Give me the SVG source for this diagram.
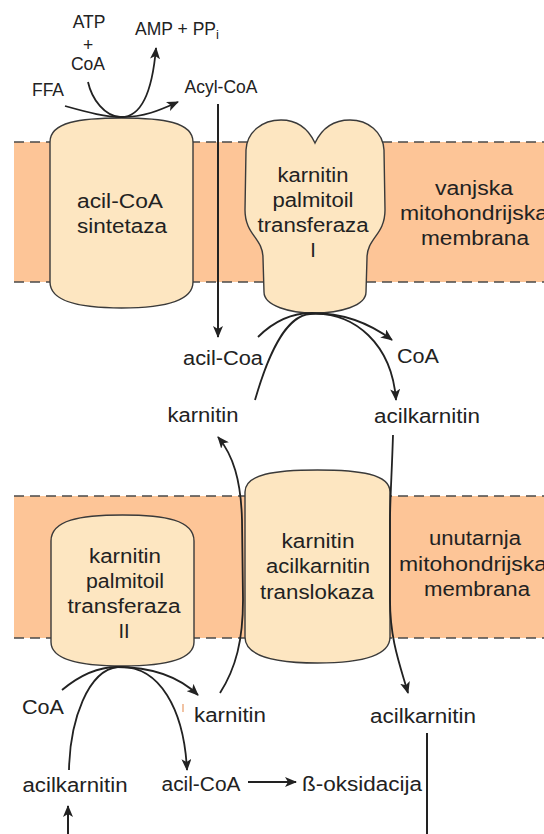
<svg xmlns="http://www.w3.org/2000/svg" width="544" height="834" viewBox="0 0 544 834">
<defs>
<style>
.mem{fill:#FDC597;stroke:none}
.dash{stroke:#4a4a4a;stroke-width:1.5;stroke-dasharray:10 6;fill:none}
.enz{fill:#FDE6C1;stroke:#3a3a3a;stroke-width:1.4}
.t{font-family:"Liberation Sans",Arial,sans-serif;font-size:20px;fill:#222;text-anchor:middle}
.s{font-family:"Liberation Sans",Arial,sans-serif;font-size:17.5px;fill:#222;text-anchor:middle}
.c{fill:none;stroke:#222;stroke-width:1.8}
.v{fill:none;stroke:#222;stroke-width:2}
</style>
<marker id="ah" viewBox="0 0 12 10" refX="11" refY="5" markerWidth="12" markerHeight="10" markerUnits="userSpaceOnUse" orient="auto">
<path d="M0,0 L12,5 L0,10 L3,5 Z" fill="#222"/>
</marker>
</defs>

<g id="outer-membrane">
<rect class="mem" x="14" y="142" width="530" height="140"/>
<line class="dash" x1="14" y1="142" x2="544" y2="142"/>
<line class="dash" x1="14" y1="282" x2="544" y2="282"/>
<text class="t" x="474" y="195" textLength="78" lengthAdjust="spacingAndGlyphs">vanjska</text>
<text class="t" x="474" y="220" textLength="148" lengthAdjust="spacingAndGlyphs">mitohondrijska</text>
<text class="t" x="475" y="245" textLength="108" lengthAdjust="spacingAndGlyphs">membrana</text>
</g>

<g id="inner-membrane">
<rect class="mem" x="14" y="496" width="530" height="142"/>
<line class="dash" x1="14" y1="496" x2="544" y2="496"/>
<line class="dash" x1="14" y1="638" x2="544" y2="638"/>
<text class="t" x="475" y="545" textLength="92" lengthAdjust="spacingAndGlyphs">unutarnja</text>
<text class="t" x="473" y="571" textLength="148" lengthAdjust="spacingAndGlyphs">mitohondrijska</text>
<text class="t" x="477" y="596" textLength="106" lengthAdjust="spacingAndGlyphs">membrana</text>
</g>

<g id="acil-coa-sintetaza">
<path class="enz" d="M50,142 C50,122 80,118 121.5,118 C163,118 193,122 193,142 L193,282 C193,302 163,308 121.5,308 C80,308 50,302 50,282 Z"/>
<text class="t" x="120" y="208" textLength="86" lengthAdjust="spacingAndGlyphs">acil-CoA</text>
<text class="t" x="122" y="233" textLength="90" lengthAdjust="spacingAndGlyphs">sintetaza</text>
</g>

<g id="cpt1">
<path class="enz" d="M315,143 C308,128 296,120 281,120 C262,120 247,132 246,150 L245,210 C245,235 263,238 263,258 L264,292 C264,306 290,313 314,313 C340,313 366,306 366,292 L367,258 C367,238 385,235 385,210 L384,150 C383,132 368,120 350,120 C334,120 322,128 315,143 Z"/>
<text class="t" x="313" y="182" textLength="71" lengthAdjust="spacingAndGlyphs">karnitin</text>
<text class="t" x="313" y="207" textLength="81" lengthAdjust="spacingAndGlyphs">palmitoil</text>
<text class="t" x="313" y="232" textLength="111" lengthAdjust="spacingAndGlyphs">transferaza</text>
<text class="t" x="313" y="257">I</text>
</g>

<g id="translokaza">
<path class="enz" d="M245,492 C245,474 275,470 317.5,470 C360,470 390,474 390,492 L390,637 C390,656 360,663 317.5,663 C275,663 245,656 245,637 Z"/>
<text class="t" x="318" y="548" textLength="73" lengthAdjust="spacingAndGlyphs">karnitin</text>
<text class="t" x="318" y="573" textLength="104" lengthAdjust="spacingAndGlyphs">acilkarnitin</text>
<text class="t" x="317" y="599" textLength="114" lengthAdjust="spacingAndGlyphs">translokaza</text>
</g>

<g id="cpt2">
<path class="enz" d="M51,541 C51,520 80,515 122.5,515 C165,515 194,520 194,541 L194,642 C194,660 165,666 122.5,666 C80,666 51,660 51,642 Z"/>
<text class="t" x="125" y="563" textLength="72" lengthAdjust="spacingAndGlyphs">karnitin</text>
<text class="t" x="125" y="588" textLength="78" lengthAdjust="spacingAndGlyphs">palmitoil</text>
<text class="t" x="124" y="613" textLength="113" lengthAdjust="spacingAndGlyphs">transferaza</text>
<text class="t" x="124" y="638">II</text>
</g>

<g id="connectors">
<path class="c" d="M65,106 C90,113 105,117 122,117 C145,117 160,110 178,102" marker-end="url(#ah)"/>
<path class="c" d="M88,82 C92,100 105,116 120,117 C140,118 152,95 156,48" marker-end="url(#ah)"/>
<line class="v" x1="218" y1="104" x2="218" y2="337" marker-end="url(#ah)"/>
<path class="c" d="M258,337 C275,320 292,313 312,313 C345,313 372,325 392,340" marker-end="url(#ah)"/>
<path class="c" d="M255,400 C268,355 285,316 310,314 C355,311 392,345 396,400" marker-end="url(#ah)"/>
<path class="c" d="M220,693 C236,668 243,640 243,600 L242,520 C241,480 233,455 218,437" marker-end="url(#ah)"/>
<path class="c" d="M393,435 C392,470 390,500 390,520 L390,600 C390,640 400,665 408,693" marker-end="url(#ah)"/>
<path class="c" d="M62,690 C80,675 98,667 117,667 C150,667 178,676 198,695" marker-end="url(#ah)"/>
<path class="c" d="M69,770 C70,720 88,670 118,667 C160,665 184,710 187,770" marker-end="url(#ah)"/>
<line class="v" x1="248" y1="782" x2="296" y2="782" marker-end="url(#ah)"/>
<line class="v" x1="427" y1="733" x2="427" y2="834"/>
<line class="v" x1="68" y1="834" x2="68" y2="806" marker-end="url(#ah)"/>
</g>

<g id="labels">
<text class="s" x="89" y="28">ATP</text>
<text class="s" x="88" y="51">+</text>
<text class="s" x="88" y="70">CoA</text>
<text class="s" x="48" y="96">FFA</text>
<text class="s" x="177" y="35">AMP + PP<tspan font-size="13" dy="4">i</tspan></text>
<text class="s" x="221" y="93">Acyl-CoA</text>
<text class="t" x="223" y="365" textLength="80" lengthAdjust="spacingAndGlyphs">acil-Coa</text>
<text class="t" x="418" y="363" textLength="42" lengthAdjust="spacingAndGlyphs">CoA</text>
<text class="t" x="203" y="422" textLength="71" lengthAdjust="spacingAndGlyphs">karnitin</text>
<text class="t" x="427" y="423" textLength="106" lengthAdjust="spacingAndGlyphs">acilkarnitin</text>
<text class="t" x="43" y="714" textLength="42" lengthAdjust="spacingAndGlyphs">CoA</text>
<line x1="183" y1="704" x2="183" y2="712" stroke="#E89A66" stroke-width="1.2"/>
<text class="t" x="230" y="722" textLength="72" lengthAdjust="spacingAndGlyphs">karnitin</text>
<text class="t" x="423" y="723" textLength="106" lengthAdjust="spacingAndGlyphs">acilkarnitin</text>
<text class="t" x="75" y="792" textLength="105" lengthAdjust="spacingAndGlyphs">acilkarnitin</text>
<text class="t" x="201" y="791" textLength="79" lengthAdjust="spacingAndGlyphs">acil-CoA</text>
<text class="t" x="362" y="791" textLength="120" lengthAdjust="spacingAndGlyphs">ß-oksidacija</text>
</g>
</svg>
